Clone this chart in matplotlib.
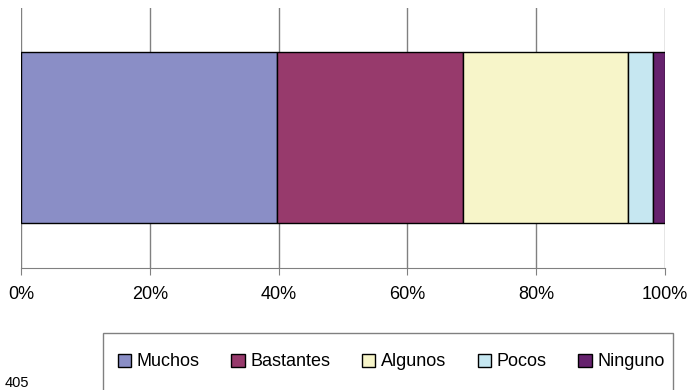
import matplotlib
matplotlib.use("Agg")
import matplotlib.pyplot as plt
from matplotlib.patches import Rectangle
from matplotlib.ticker import FuncFormatter

categories = ["Muchos", "Bastantes", "Algunos", "Pocos", "Ninguno"]
values = [39.7, 28.9, 25.7, 3.9, 1.8]
colors = ["#8a8ec6", "#973a6c", "#f7f5c9", "#c6e7f1", "#66226e"]
ticks = [0, 20, 40, 60, 80, 100]
page_number = "405"

plt.rcParams["font.family"] = ["Liberation Sans", "DejaVu Sans"]

fig = plt.figure(figsize=(6.88, 3.90), dpi=100)
ax = fig.add_axes([0.0305, 0.313, 0.936, 0.667])

left = 0
for name, val, col in zip(categories, values, colors):
    ax.barh(0, val, left=left, height=1.0, color=col, edgecolor="black",
            linewidth=1.0, label=name, zorder=3)
    left += val

ax.set_xlim(0, 100)
ax.set_ylim(-0.76, 0.76)
ax.set_xticks(ticks)
ax.xaxis.set_major_formatter(FuncFormatter(lambda v, p: f"{v:.0f}%"))
ax.set_yticks([])
ax.grid(axis="x", color="#808080", linewidth=1.0, zorder=0)
for s in ["top", "right", "left"]:
    ax.spines[s].set_visible(False)
ax.spines["bottom"].set_color("#808080")
ax.tick_params(axis="x", direction="out", length=5, color="#808080",
               labelsize=13, pad=8)

# legend frame running off the bottom edge
fig.patches.append(Rectangle((103 / 688, -0.05), 570 / 688, 1 - 333 / 390 + 0.05,
                             transform=fig.transFigure, fill=False,
                             edgecolor="#808080", linewidth=1.0))
fig.legend(loc="center", bbox_to_anchor=(391 / 688, 1 - 362 / 390), ncol=5,
           frameon=False, fontsize=13, handlelength=0.75, handleheight=0.75,
           handletextpad=0.3, columnspacing=1.75)

fig.text(5 / 688, 1 - 383 / 390, page_number, fontsize=10.5, va="center", ha="left")

fig.savefig("out.png", dpi=100)
